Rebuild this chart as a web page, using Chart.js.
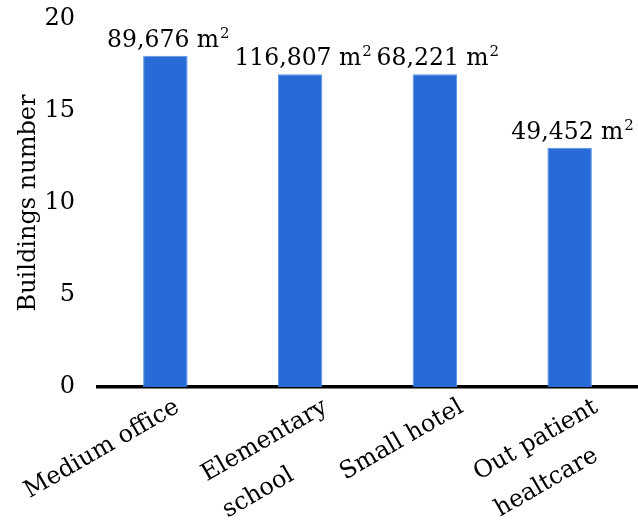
<!DOCTYPE html>
<html>
<head>
<meta charset="utf-8">
<script src="https://cdn.jsdelivr.net/npm/chart.js@4"></script>
<style>
  html, body { margin: 0; padding: 0; background: #ffffff; }
  #wrap { width: 638px; height: 521px; position: relative; }
</style>
</head>
<body>
<div id="wrap"><canvas id="c" width="638" height="521"></canvas></div>
<script>
const categories = [["Medium office"], ["Elementary", "school"], ["Small hotel"], ["Out patient", "healtcare"]];
const buildingCounts = [18, 17, 17, 13];
const floorAreaLabels = ["89,676 m\u00B2", "116,807 m\u00B2", "68,221 m\u00B2", "49,452 m\u00B2"];
const yTicks = [0, 5, 10, 15, 20];

const FONT = "'DejaVu Serif', 'Liberation Serif', serif";

const valueLabelPlugin = {
  id: 'valueLabels',
  afterDatasetsDraw(chart) {
    const ctx = chart.ctx;
    const meta = chart.getDatasetMeta(0);
    ctx.save();
    ctx.fillStyle = '#000000';
    ctx.textAlign = 'left';
    ctx.textBaseline = 'alphabetic';
    meta.data.forEach((bar, i) => {
      const parts = floorAreaLabels[i].split('\u00B2');
      const base = parts[0];
      const hasSup = parts.length > 1;
      ctx.font = "23.5px " + FONT;
      const wBase = ctx.measureText(base).width;
      ctx.font = "15px " + FONT;
      const wSup = hasSup ? ctx.measureText('2').width + 1 : 0;
      const total = wBase + wSup;
      const x0 = bar.x + 3 - total / 2;
      const y0 = bar.y - 9;
      ctx.font = "23.5px " + FONT;
      ctx.fillText(base, x0, y0);
      if (hasSup) {
        ctx.font = "15px " + FONT;
        ctx.fillText('2', x0 + wBase + 1, y0 - 9);
      }
    });
    ctx.restore();
  }
};

const rotatedCategoryPlugin = {
  id: 'rotatedCategories',
  afterDraw(chart) {
    const ctx = chart.ctx;
    const xs = chart.scales.x;
    const bottom = chart.chartArea.bottom;
    const angle = -30 * Math.PI / 180;
    ctx.save();
    ctx.font = "24px " + FONT;
    ctx.fillStyle = '#000000';
    ctx.textAlign = 'left';
    ctx.textBaseline = 'alphabetic';
    chart.data.labels.forEach((lines, i) => {
      const tx = xs.getPixelForTick(i);
      const w0 = ctx.measureText(lines[0]).width;
      const endX = tx + 85 - 0.4 * w0;
      const endY = bottom + 24;
      ctx.save();
      ctx.translate(endX, endY);
      ctx.rotate(angle);
      lines.forEach((ln, j) => ctx.fillText(ln, -w0, j * 42));
      ctx.restore();
    });
    ctx.restore();
  }
};

new Chart(document.getElementById('c'), {
  type: 'bar',
  data: {
    labels: categories,
    datasets: [{
      data: buildingCounts,
      backgroundColor: '#276cd6',
      borderColor: '#5a92e6',
      borderWidth: 1,
      barPercentage: 0.33,
      categoryPercentage: 1.0
    }]
  },
  options: {
    responsive: false,
    animation: false,
    layout: { padding: { top: 19, right: 1, left: 0, bottom: 0 } },
    plugins: {
      legend: { display: false },
      tooltip: { enabled: false }
    },
    scales: {
      x: {
        grid: { display: false, drawTicks: false },
        border: { display: true, color: '#000000', width: 3.5 },
        ticks: { display: false },
        afterFit(scale) {
          scale.height = 134;
          scale.paddingLeft = 0; scale.paddingRight = 0;
          scale.paddingTop = 0; scale.paddingBottom = 0;
        }
      },
      y: {
        min: 0,
        max: 20,
        afterBuildTicks(scale) { scale.ticks = yTicks.map(v => ({ value: v })); },
        grid: { display: false, drawTicks: false },
        border: { display: false },
        ticks: {
          font: { family: FONT, size: 24 },
          color: '#000000',
          padding: 23
        },
        title: {
          display: true,
          text: 'Buildings number',
          font: { family: FONT, size: 24 },
          color: '#000000',
          padding: { top: 14, bottom: 0 }
        },
        afterFit(scale) {
          scale.width = 98;
          scale.paddingTop = 0; scale.paddingBottom = 0;
          scale.paddingLeft = 0; scale.paddingRight = 0;
        }
      }
    }
  },
  plugins: [valueLabelPlugin, rotatedCategoryPlugin]
});
</script>
</body>
</html>
